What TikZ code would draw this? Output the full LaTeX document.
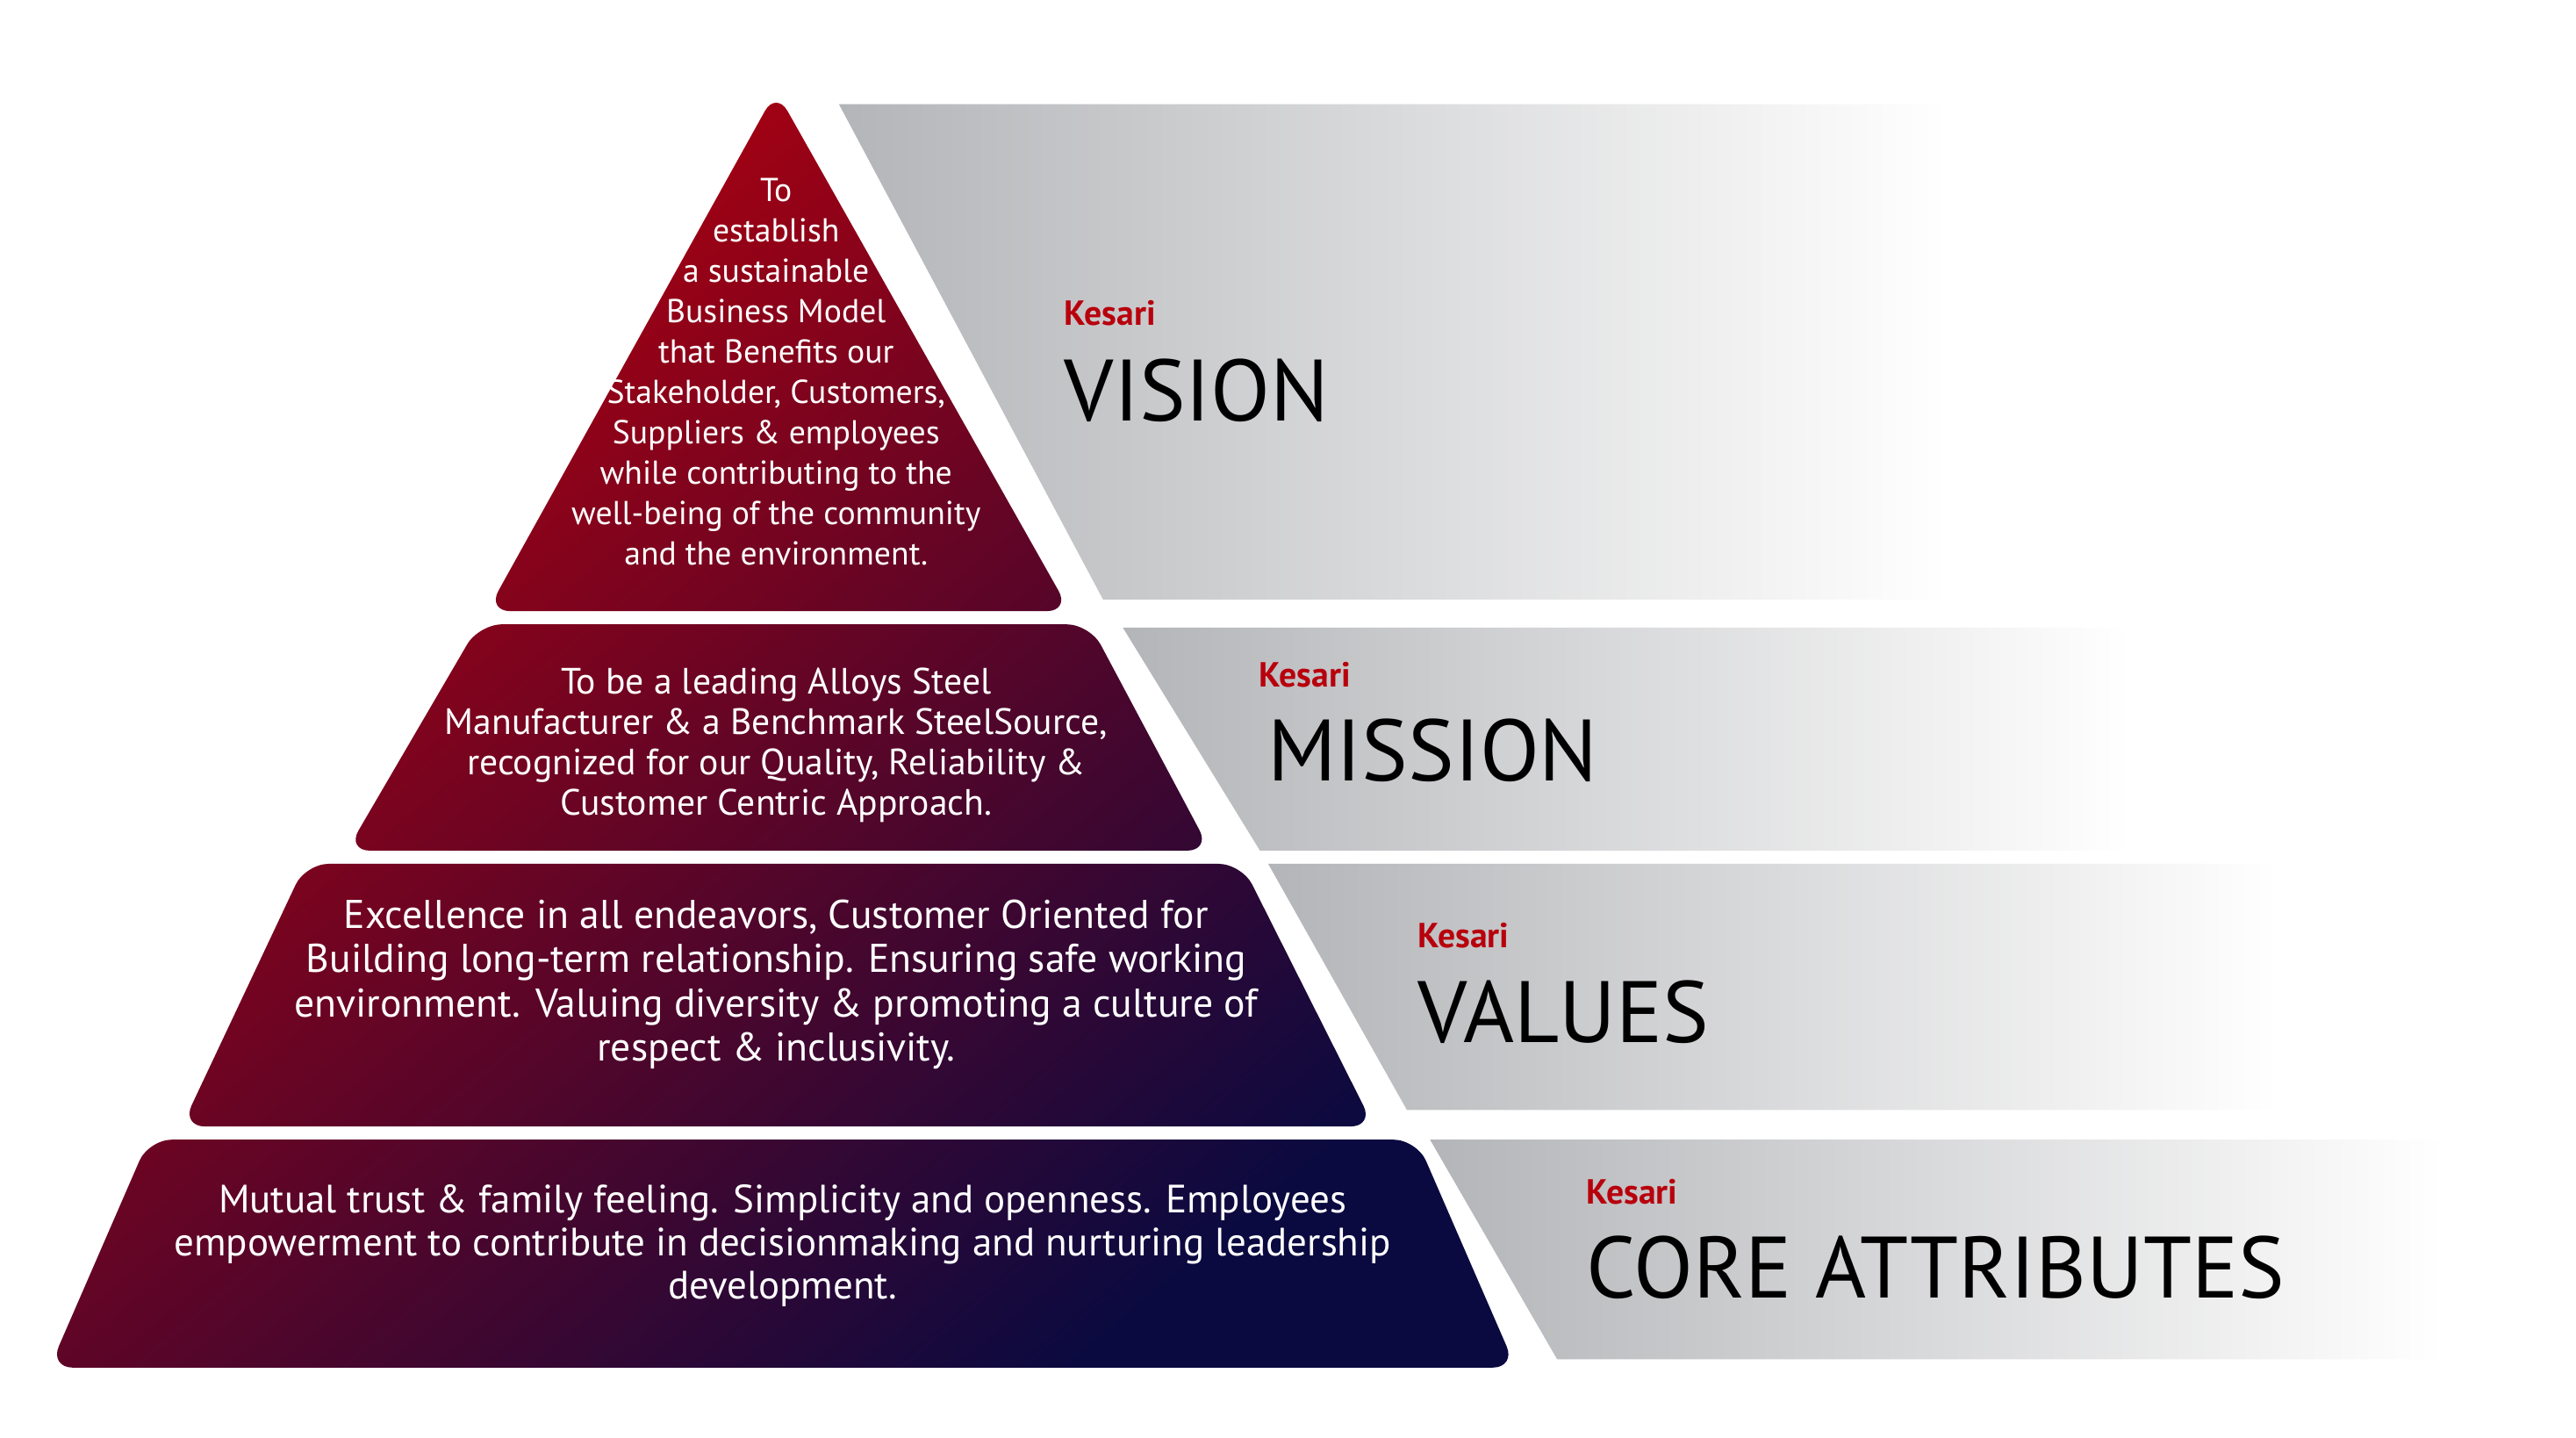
\documentclass[tikz,border=0pt]{standalone}
\usepackage{fontspec}
\setmainfont{PT Sans}
\usetikzlibrary{positioning}
\definecolor{kred}{HTML}{B8000C}
\definecolor{kmid}{HTML}{7A0018}
\definecolor{knavy}{HTML}{0A0A40}
\definecolor{kgrey}{HTML}{B4B5B8}
\tikzset{%
	band/.style={left color=kgrey, right color=white, draw=none},
	tiertext/.style={text=white, align=center, inner sep=0pt},
	brand/.style={text=kred, anchor=base west, inner sep=0pt, font=\fontsize{6}{7}\selectfont\bfseries},
	title/.style={anchor=base west, inner sep=0pt, font=\fontsize{15}{17}\selectfont},
}
\begin{document}
\begin{tikzpicture}[x=0.01cm, y=-0.01cm]
	\useasboundingbox (0,0) rectangle (1560,870.6);
	
	%bands
	\path[band] (508,63) -- (1180,63) -- (1180,363) -- (668,363) -- cycle;
	\path[band] (680,380) -- (1290,380) -- (1290,515) -- (763,515) -- cycle;
	\path[band] (768,523) -- (1380,523) -- (1380,672) -- (852,672) -- cycle;
	\path[band] (866,690) -- (1480,690) -- (1480,823) -- (943,823) -- cycle;
	
	%pyramid
	\path[rounded corners=4pt, shading=axis, top color=kred, middle color=kmid, bottom color=knavy, shading angle=40]
		(470,55) -- (648,370) -- (295,370) -- cycle
		(290,378) -- (660,378) -- (733,515) -- (210,515) -- cycle
		(185,523) -- (752,523) -- (832,682) -- (110,682) -- cycle
		(90,690) -- (858,690) -- (918,828) -- (30,828) -- cycle;
	
	%texts
	\node[tiertext, font=\fontsize{5.7}{6.95}\selectfont] (vistext) at (470,225) {To\\establish\\a sustainable\\Business Model\\that Benefits our\\Stakeholder, Customers,\\Suppliers \& employees\\while contributing to the\\well-being of the community\\and the environment.};
	\node[tiertext, font=\fontsize{6.3}{6.95}\selectfont] (mistext) at (470,451) {To be a leading Alloys Steel\\Manufacturer \& a Benchmark SteelSource,\\recognized for our Quality, Reliability \&\\Customer Centric Approach.};
	\node[tiertext, font=\fontsize{6.9}{7.6}\selectfont] (valtext) at (470,596) {Excellence in all endeavors, Customer Oriented for\\Building long-term relationship. Ensuring safe working\\environment. Valuing diversity \& promoting a culture of\\respect \& inclusivity.};
	\node[tiertext, font=\fontsize{6.8}{7.4}\selectfont] (cortext) at (474,754) {Mutual trust \& family feeling. Simplicity and openness. Employees\\empowerment to contribute in decisionmaking and nurturing leadership\\development.};
	
	%titles
	\node[brand] (visbrand) at (644,197) {Kesari};
	\node[title] (vistitle) at (644,255) {VISION};
	\node[brand] (misbrand) at (762,416) {Kesari};
	\node[title] (mistitle) at (767,473) {MISSION};
	\node[brand] (valbrand) at (858,574) {Kesari};
	\node[title] (valtitle) at (858,631) {VALUES};
	\node[brand] (corbrand) at (960,729) {Kesari};
	\node[title] (cortitle) at (960,786) {CORE ATTRIBUTES};
\end{tikzpicture}
\end{document}
